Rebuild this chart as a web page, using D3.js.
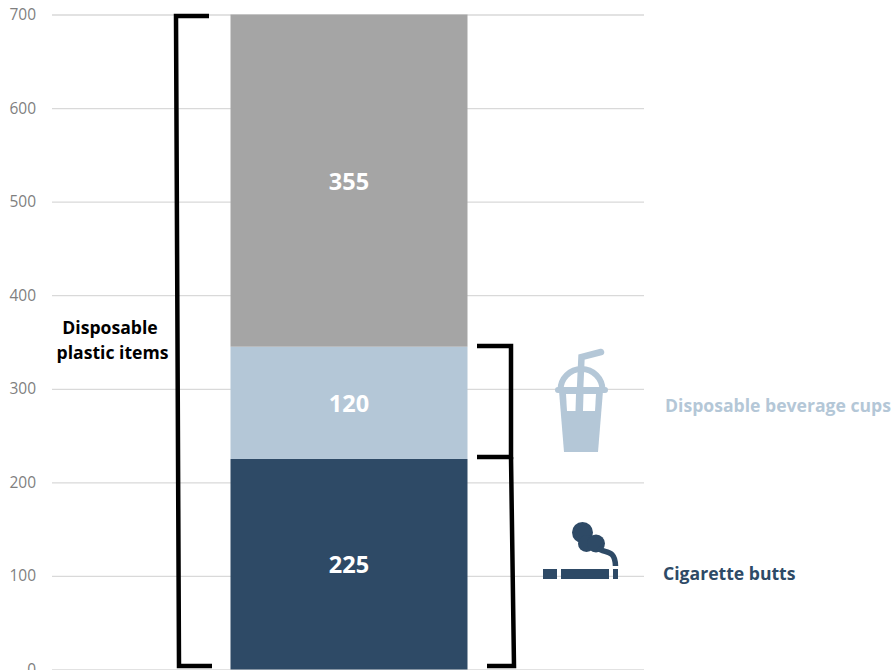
<!DOCTYPE html>
<meta charset="utf-8">
<style>
html, body { margin: 0; padding: 0; background: #fff; }
svg { display: block; }
text { font-family: "Open Sans", sans-serif; }
.grid line { stroke: #d9d9d9; stroke-width: 1.3px; }
.grid path { display: none; }
.grid text { fill: #7f7f7f; font-size: 15.5px; }
.bracket { fill: none; stroke: #000; stroke-width: 4.5px; }
.seg-label { fill: #fff; font-size: 23.5px; font-weight: 700; text-anchor: middle; }
.note { font-size: 17.6px; font-weight: 700; }
</style>
<svg width="893" height="670"></svg>
<script src="https://d3js.org/d3.v7.min.js"></script>
<script>

var categories = ["Cigarette butts", "Disposable beverage cups", "Other disposable plastic items"];
var values = [225, 120, 355];
var colors = ["#2e4a66", "#b4c7d7", "#a5a5a5"];
var tickValues = [0, 100, 200, 300, 400, 500, 600, 700];

var svg = d3.select("svg");

var y = d3.scaleLinear().domain([0, 700]).range([669.5, 14.5]);
var x = d3.scaleBand().domain(["items"]).range([230.5, 467.5]);

// gridlines and tick labels
svg.append("g")
    .attr("class", "grid")
    .attr("transform", "translate(52,0)")
    .call(d3.axisLeft(y).tickValues(tickValues).tickSize(-592).tickPadding(16))
    .selectAll("text")
    .attr("dy", "0.32em");

// stack the segments
var base = 0;
var segments = values.map(function(v, i) {
  var s = { name: categories[i], value: v, y0: base, y1: base + v, color: colors[i] };
  base += v;
  return s;
});

svg.append("g").selectAll("rect")
    .data(segments)
    .enter().append("rect")
    .attr("x", x("items"))
    .attr("width", x.bandwidth())
    .attr("y", function(d) { return y(d.y1); })
    .attr("height", function(d) { return y(d.y0) - y(d.y1); })
    .attr("fill", function(d) { return d.color; });

svg.append("g").selectAll("text")
    .data(segments)
    .enter().append("text")
    .attr("class", "seg-label")
    .attr("x", x("items") + x.bandwidth() / 2)
    .attr("y", function(d) { return y((d.y0 + d.y1) / 2) + 1; })
    .attr("dy", "0.35em")
    .text(function(d) { return d.value; });

// hand drawn brackets
var line = d3.line();
var brackets = [
  [[209, 16], [176, 16], [179, 666], [212, 666]],
  [[477, 346], [511, 346], [511, 457], [477, 457]],
  [[511, 457], [514, 666], [487, 666]]
];
svg.append("g").selectAll("path")
    .data(brackets)
    .enter().append("path")
    .attr("class", "bracket")
    .attr("d", line);

// notes
svg.append("text").attr("class", "note").attr("x", 110).attr("y", 334)
    .attr("text-anchor", "middle").attr("fill", "#000").text("Disposable");
svg.append("text").attr("class", "note").attr("x", 112.5).attr("y", 359)
    .attr("text-anchor", "middle").attr("fill", "#000").text("plastic items");
svg.append("text").attr("class", "note").attr("x", 665).attr("y", 412)
    .attr("fill", colors[1]).text(categories[1]);
svg.append("text").attr("class", "note").attr("x", 663).attr("y", 580)
    .attr("fill", colors[0]).text(categories[0]);

// cup icon
var cup = svg.append("g").attr("fill", colors[1]).attr("stroke", colors[1]);
cup.append("path").attr("d", "M559 391L603 391L598 452L564 452Z").attr("stroke", "none");
cup.append("path").attr("d", "M560.5 390A21 21 0 0 1 602.5 390").attr("fill", "none").attr("stroke-width", 6);
cup.append("path").attr("d", "M558 390L605 390").attr("stroke-width", 6).attr("stroke-linecap", "round");
cup.append("path").attr("d", "M579 412L581.5 357L601 352").attr("fill", "none").attr("stroke-width", 6.5).attr("stroke-linecap", "round");
cup.append("path").attr("d", "M566 394L576 394L575.5 411L567 411Z").attr("fill", "#fff").attr("stroke", "none");
cup.append("path").attr("d", "M583.5 394L596 394L595 411L583 411Z").attr("fill", "#fff").attr("stroke", "none");

// cigarette icon
var cig = svg.append("g").attr("fill", colors[0]);
[[543, 14], [561, 48], [613, 5]].forEach(function(r) {
  cig.append("rect").attr("x", r[0]).attr("y", 569).attr("width", r[1]).attr("height", 10);
});
cig.append("circle").attr("cx", 582.5).attr("cy", 532.5).attr("r", 10.5);
cig.append("circle").attr("cx", 586.5).attr("cy", 543.5).attr("r", 8.5);
cig.append("circle").attr("cx", 596).attr("cy", 543.5).attr("r", 9);
cig.append("path").attr("d", "M598 548C604 554 615 548 615.5 566")
    .attr("fill", "none").attr("stroke", colors[0]).attr("stroke-width", 5.5);

</script>
